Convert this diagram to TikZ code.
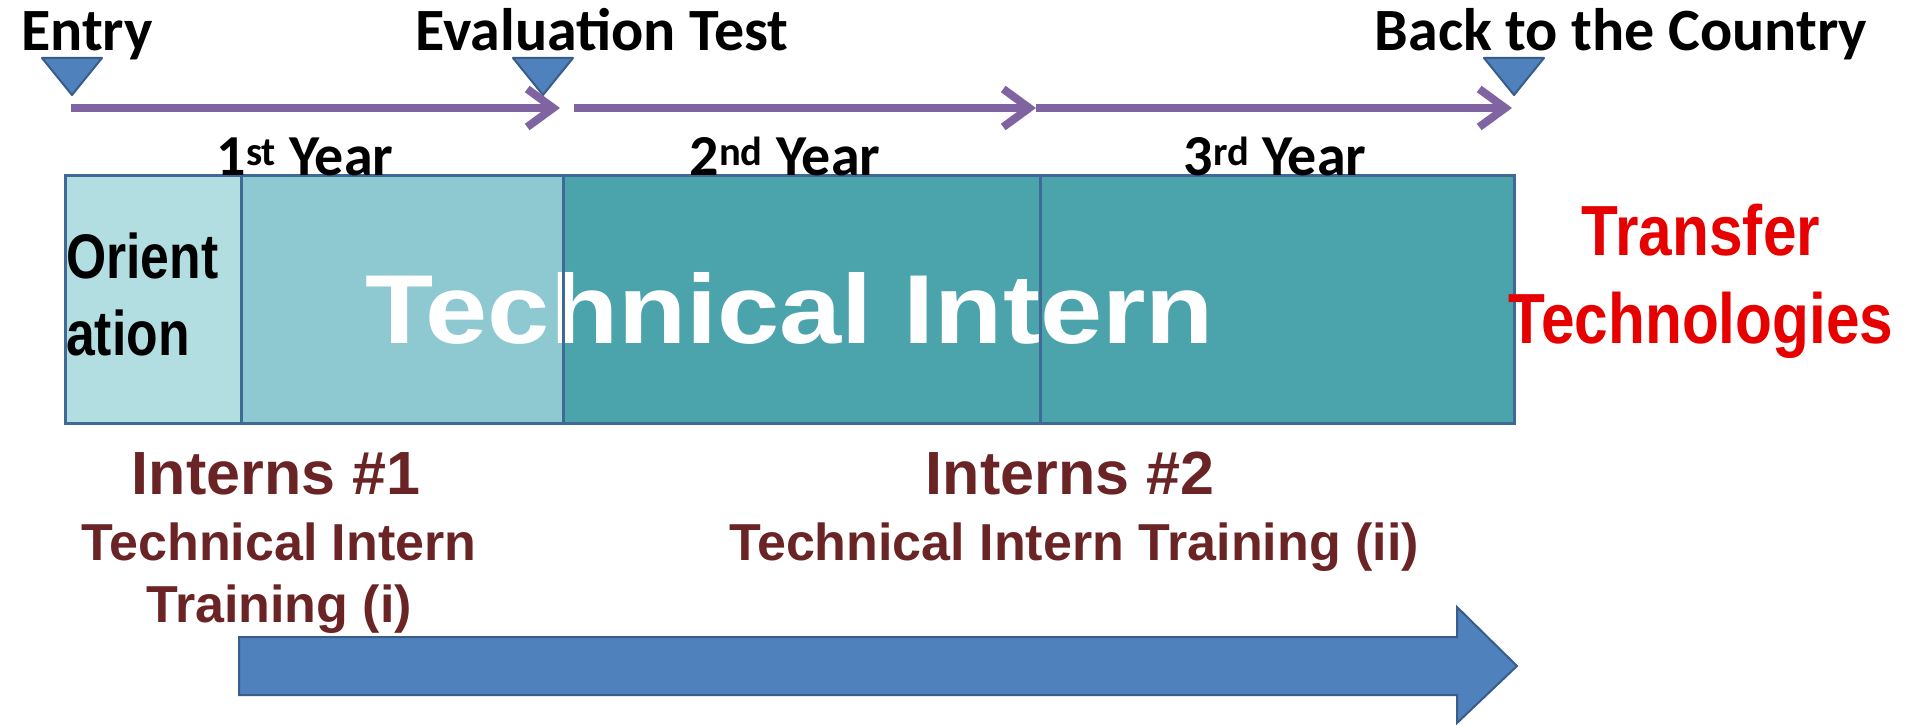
\documentclass[tikz,border=0pt]{standalone}
\usepackage{fontspec}
\usepackage{graphicx}
\setmainfont{Liberation Sans}
\newfontfamily\calfont{Carlito}
\usetikzlibrary{arrows.meta}
\definecolor{orifill}{HTML}{B2DDE1}
\definecolor{yonefill}{HTML}{8EC8D0}
\definecolor{tealfill}{HTML}{4BA3AC}
\definecolor{boxline}{HTML}{3E6A95}
\definecolor{tlpurple}{HTML}{8064A2}
\definecolor{triblue}{HTML}{4F81BD}
\definecolor{triline}{HTML}{385D8A}
\definecolor{maroon}{HTML}{6B2426}
\definecolor{tred}{HTML}{E60000}
\begin{document}
\begin{tikzpicture}[x=1pt,y=-1pt,
  seg/.style={draw=boxline,line width=3pt,inner sep=0pt,outer sep=0pt,minimum height=248pt,anchor=north west},
  divline/.style={draw=boxline,line width=3pt},
  toplbl/.style={anchor=base,inner sep=0pt,font=\calfont\bfseries\fontsize{60}{72}\selectfont},
  yearlbl/.style={anchor=base,inner sep=0pt,font=\calfont\bfseries\fontsize{58}{70}\selectfont},
  tri/.style={fill=triblue,draw=triline,line width=2pt,line join=round},
  tl/.style={draw=tlpurple,line width=8pt,-{Straight Barb[length=26pt,width=38pt]}},
  intern/.style={anchor=base,inner sep=0pt,text=maroon,font=\bfseries\fontsize{61}{73}\selectfont},
  training/.style={anchor=base,inner sep=0pt,text=maroon,align=center,font=\bfseries\fontsize{52}{62}\selectfont},
]
\useasboundingbox (0,0) rectangle (1907,725);
\fill[white] (0,0) rectangle (1907,725);

% main bar
\node[seg,fill=orifill,minimum width=176pt] (ori) at (65,175) {};
\node[seg,fill=yonefill,minimum width=322pt] (yone) at (241,175) {};
\node[seg,fill=tealfill,minimum width=477pt] (ytwo) at (563,175) {};
\node[seg,fill=tealfill,minimum width=474pt] (ythree) at (1040,175) {};

\node[anchor=base west,inner sep=0pt,align=left,font=\bfseries\fontsize{63}{77}\selectfont] (oritext) at (66,355)
  {\scalebox{0.82}[1]{Orient}\\\scalebox{0.82}[1]{ation}};
\node[anchor=base,inner sep=0pt,text=white,font=\bfseries\fontsize{98}{110}\selectfont] (tech) at (790,343)
  {\scalebox{1.14}[1]{Technical Intern}};

% dividers drawn over the text
\draw[divline] (ytwo.north west) -- (ytwo.south west);
\draw[divline] (ythree.north west) -- (ythree.south west);

% year labels
\node[yearlbl] (yr1) at (305,175) {1\textsuperscript{st} Year};
\node[yearlbl] (yr2) at (785,175) {2\textsuperscript{nd} Year};
\node[yearlbl] (yr3) at (1275,175) {3\textsuperscript{rd} Year};

% top labels
\node[toplbl] (entry) at (87,51) {Entry};
\node[toplbl] (eval) at (602,51) {Evaluation Test};
\node[toplbl] (back) at (1621,51) {Back to the Country};

% timeline
\filldraw[tri] (42,58) -- (102,58) -- (72,95) -- cycle;
\filldraw[tri] (513,58) -- (573,58) -- (543,95) -- cycle;
\filldraw[tri] (1484,58) -- (1544,58) -- (1514,95) -- cycle;
\coordinate (a0) at (71,108);
\coordinate (a1) at (560,108);
\coordinate (b0) at (574,108);
\coordinate (b1) at (1036,108);
\coordinate (c1) at (1512,108);
\draw[tl] (a0) -- (a1);
\draw[tl] (b0) -- (b1);
\draw[tl] (b1) -- (c1);

% transfer
\node[anchor=base,inner sep=0pt,text=tred,align=center,font=\bfseries\fontsize{71}{88}\selectfont] (transfer) at (1701,343)
  {\scalebox{0.85}[1]{Transfer}\\\scalebox{0.85}[1]{Technologies}};

% interns
\node[intern] (int1) at (276,494) {Interns \#1};
\node[intern] (int2) at (1070,494) {Interns \#2};
\node[training] (tr1) at (279,622) {Technical Intern\\Training (i)};
\node[training] (tr2) at (1074,560) {Technical Intern Training (ii)};

% big arrow
\filldraw[fill=triblue,draw=triline,line width=2pt,line join=miter]
  (239,637) -- (1457,637) -- (1457,607) -- (1517,666) -- (1457,723) -- (1457,695) -- (239,695) -- cycle;
\end{tikzpicture}
\end{document}
